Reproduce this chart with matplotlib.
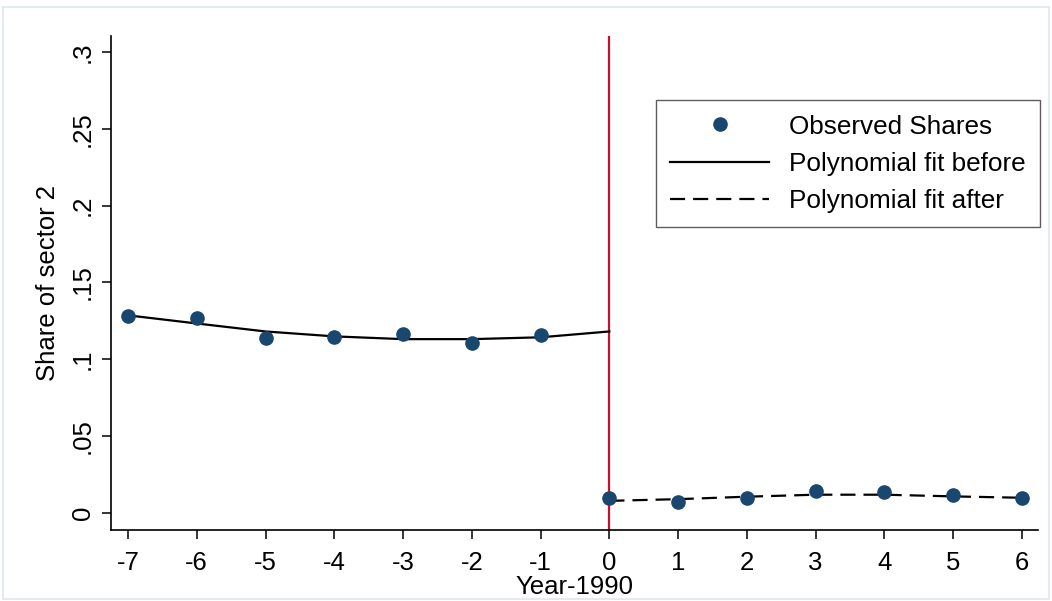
import matplotlib
matplotlib.use("Agg")
import matplotlib.pyplot as plt
from matplotlib.patches import Rectangle

plt.rcParams['font.family'] = ['Liberation Sans', 'DejaVu Sans']

# observed shares
years = [-7, -6, -5, -4, -3, -2, -1, 0, 1, 2, 3, 4, 5, 6]
shares = [0.128, 0.127, 0.114, 0.1145, 0.1165, 0.1106, 0.1158,
          0.0095, 0.0068, 0.0095, 0.014, 0.0132, 0.0112, 0.0098]

# fitted values
fit_before_x = [-7, -6, -5, -4, -3, -2, -1, 0]
fit_before_y = [0.1285, 0.1232, 0.118, 0.1148, 0.113, 0.113, 0.1142, 0.118]
fit_after_x = [0, 1, 2, 3, 4, 5, 6]
fit_after_y = [0.0077, 0.0088, 0.0104, 0.0117, 0.0117, 0.0106, 0.0097]

yticks = [0, 0.05, 0.1, 0.15, 0.2, 0.25, 0.3]
ytick_labels = ["0", ".05", ".1", ".15", ".2", ".25", ".3"]

NAVY = "#1a476f"
RED = "#c8102e"
FS = 18.5

fig = plt.figure(figsize=(10.52, 6.01), dpi=100)
fig.patches.append(Rectangle((0.003, 0.003), 0.994, 0.985, transform=fig.transFigure,
                             fill=False, edgecolor="#e3ebee", linewidth=1.5))
ax = fig.add_axes([0.1055, 0.1181, 0.8812, 0.822])

ax.axvline(0, color=RED, linewidth=1.6, zorder=1)
ax.plot(years, shares, linestyle="none", marker="o", markersize=9.5,
        color=NAVY, label="Observed Shares", zorder=3)
ax.plot(fit_before_x, fit_before_y, color="black", linewidth=1.6,
        label="Polynomial fit before", zorder=2)
ax.plot(fit_after_x, fit_after_y, color="black", linewidth=1.6,
        dashes=(6.8, 3.6), label="Polynomial fit after", zorder=2)

ax.set_xlim(-7.247, 6.233)
ax.set_ylim(-0.0113, 0.3104)
ax.set_xticks(years)
ax.set_xticklabels([str(y) for y in years])
ax.set_yticks(yticks)
ax.set_yticklabels(ytick_labels, rotation=90, va="center")

for s in ["top", "right"]:
    ax.spines[s].set_visible(False)
for s in ["left", "bottom"]:
    ax.spines[s].set_linewidth(1.2)

ax.tick_params(axis="x", length=6.5, width=1.1, labelsize=FS, pad=8.5)
ax.tick_params(axis="y", length=6.5, width=1.1, labelsize=FS, pad=5)
ax.set_xlabel("Year-1990", fontsize=FS, labelpad=0)
ax.set_ylabel("Share of sector 2", fontsize=FS, labelpad=8)

leg = ax.legend(loc="upper right", bbox_to_anchor=(1.002, 0.870), fontsize=18.8,
                frameon=True, fancybox=False, edgecolor="#333333",
                handlelength=3.8, borderpad=0.55, labelspacing=0.5,
                handletextpad=0.75, borderaxespad=0)
leg.get_frame().set_linewidth(1.0)

fig.savefig("out.png", dpi=100)
